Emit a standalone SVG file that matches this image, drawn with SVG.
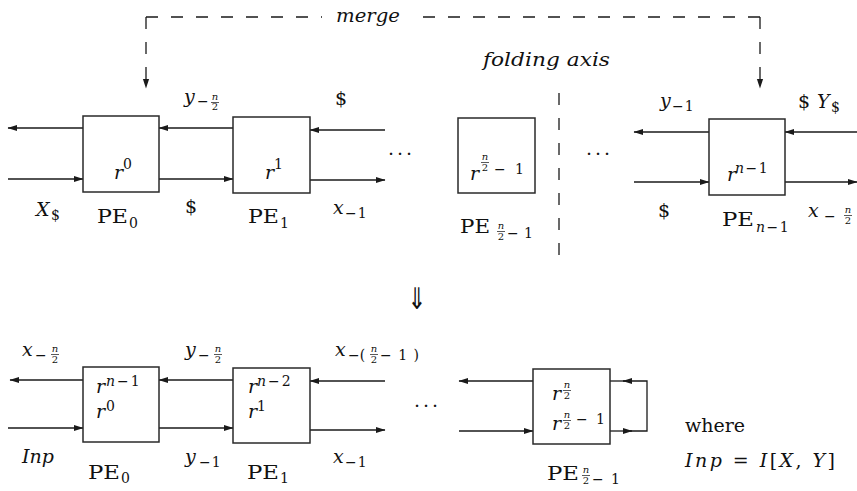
<svg xmlns="http://www.w3.org/2000/svg" width="857" height="491" viewBox="0 0 857 491">
<defs>
<marker id="ah" markerWidth="10" markerHeight="8" refX="9" refY="4" orient="auto" markerUnits="userSpaceOnUse">
<path d="M0,0.9 L9.5,4 L0,7.1 Z" fill="#1a1a1a"/>
</marker>
<style>
text{font-family:'DejaVu Serif','Liberation Serif',serif;fill:#111;font-size:19px}
.i{font-style:italic}
.S{font-size:14px}
.F{font-size:10px}
.b{fill:#fff;stroke:#2a2a2a;stroke-width:1.5}
.c{fill:none;stroke:#1a1a1a;stroke-width:1.3}
.a{marker-end:url(#ah)}
.d{stroke-dasharray:12 13}
.fb{stroke:#111;stroke-width:0.7}
</style>
</defs>
<rect width="857" height="491" fill="#fff"/>

<g id="connectors">
<path class="c d" d="M146,17 H322"/>
<path class="c d" d="M760,17 H412"/>
<path class="c d a" d="M146,17 V88"/>
<path class="c d a" d="M760,17 V88"/>
<path class="c d" d="M559,93 V258"/>
<path class="c a" d="M83,128 H8"/>
<path class="c a" d="M8,179 H83"/>
<path class="c a" d="M233,128 H159"/>
<path class="c a" d="M159,179 H233"/>
<path class="c a" d="M385,130 H310"/>
<path class="c a" d="M310,180 H385"/>
<path class="c a" d="M709,132 H634"/>
<path class="c a" d="M634,182 H709"/>
<path class="c a" d="M857,132 H785"/>
<path class="c a" d="M785,182 H857"/>
<path class="c a" d="M83,380 H10"/>
<path class="c a" d="M8,428 H83"/>
<path class="c a" d="M233,380 H159"/>
<path class="c a" d="M159,428 H233"/>
<path class="c a" d="M385,381 H310"/>
<path class="c a" d="M310,430 H385"/>
<path class="c a" d="M533,381 H459"/>
<path class="c a" d="M459,431 H533"/>
<path class="c a" d="M610,431 H632"/>
<path class="c a" d="M630,431 H647 V381 H623"/>
<path class="c" d="M625,381 H610"/>
</g>

<g id="top-pe0">
<rect class="b" x="83" y="116" width="76" height="76"/>
<text class="i" x="114" y="179">r</text><text class="S" x="123" y="169">0</text>
<text x="97" y="223" textLength="31" lengthAdjust="spacingAndGlyphs">PE</text><text class="S" x="129" y="228">0</text>
</g>
<g id="top-pe1">
<rect class="b" x="233" y="117" width="77" height="76"/>
<text class="i" x="265" y="179">r</text><text class="S" x="274" y="169">1</text>
<text x="248" y="223" textLength="31" lengthAdjust="spacingAndGlyphs">PE</text><text class="S" x="280" y="228">1</text>
</g>
<g id="top-pe-half">
<rect class="b" x="458" y="118" width="77" height="75"/>
<text class="i" x="470" y="180">r</text>
<text class="i F" x="485" y="160" text-anchor="middle">n</text>
<line class="fb" x1="481" y1="162.5" x2="489" y2="162.5"/>
<text class="F" x="485" y="171" text-anchor="middle">2</text>
<text class="S" x="494" y="174">−</text><text class="S" x="515" y="174">1</text>
<text x="460" y="233" textLength="30" lengthAdjust="spacingAndGlyphs">PE</text>
<text class="i F" x="501" y="229" text-anchor="middle">n</text>
<line class="fb" x1="497" y1="231.5" x2="505" y2="231.5"/>
<text class="F" x="501" y="240" text-anchor="middle">2</text>
<text class="S" x="507" y="238">−</text><text class="S" x="524" y="238">1</text>
</g>
<g id="top-pe-last">
<rect class="b" x="709" y="119" width="76" height="76"/>
<text class="i" x="727" y="181">r</text><text class="S" x="735" y="173" letter-spacing="1.5"><tspan class="i">n</tspan>−1</text>
<text x="722" y="226" textLength="32" lengthAdjust="spacingAndGlyphs">PE</text><text class="S" x="756" y="232" letter-spacing="1.5"><tspan class="i">n</tspan>−1</text>
</g>

<g id="bot-pe0">
<rect class="b" x="83" y="367" width="76" height="75"/>
<text class="i" x="96" y="393">r</text><text class="S" x="106" y="386" letter-spacing="2"><tspan class="i">n</tspan>−1</text>
<text class="i" x="96" y="418">r</text><text class="S" x="106" y="411">0</text>
<text x="88" y="479" textLength="32" lengthAdjust="spacingAndGlyphs">PE</text><text class="S" x="121" y="483">0</text>
</g>
<g id="bot-pe1">
<rect class="b" x="233" y="368" width="77" height="75"/>
<text class="i" x="248" y="393">r</text><text class="S" x="257" y="386" letter-spacing="2"><tspan class="i">n</tspan>−2</text>
<text class="i" x="248" y="418">r</text><text class="S" x="257" y="411">1</text>
<text x="247" y="479" textLength="32" lengthAdjust="spacingAndGlyphs">PE</text><text class="S" x="280" y="483">1</text>
</g>
<g id="bot-pe-half">
<rect class="b" x="533" y="369" width="77" height="75"/>
<text class="i" x="552" y="400">r</text>
<text class="i F" x="567" y="388" text-anchor="middle">n</text>
<line class="fb" x1="563" y1="390.5" x2="571" y2="390.5"/>
<text class="F" x="567" y="399" text-anchor="middle">2</text>
<text class="i" x="552" y="430">r</text>
<text class="i F" x="567" y="418" text-anchor="middle">n</text>
<line class="fb" x1="563" y1="420.5" x2="571" y2="420.5"/>
<text class="F" x="567" y="429" text-anchor="middle">2</text>
<text class="S" x="576" y="424">−</text><text class="S" x="596" y="424">1</text>
<text x="547" y="480" textLength="32" lengthAdjust="spacingAndGlyphs">PE</text>
<text class="i F" x="586" y="473" text-anchor="middle">n</text>
<line class="fb" x1="582" y1="475.5" x2="590" y2="475.5"/>
<text class="F" x="586" y="484" text-anchor="middle">2</text>
<text class="S" x="592" y="484">−</text><text class="S" x="611" y="484">1</text>
</g>

<g id="labels">
<text class="i" x="336" y="22" textLength="64" lengthAdjust="spacingAndGlyphs">merge</text>
<text class="i" x="483" y="66" textLength="127" lengthAdjust="spacingAndGlyphs">folding axis</text>
<text class="i" x="184" y="103">y</text><text class="S" x="197" y="106">−</text>
<text class="i F" x="215" y="100" text-anchor="middle">n</text>
<line class="fb" x1="211" y1="102.5" x2="219" y2="102.5"/>
<text class="F" x="215" y="110" text-anchor="middle">2</text>
<text x="335" y="105">$</text>
<text class="i" x="36" y="216">X</text><text class="S" x="51" y="220">$</text>
<text x="185" y="213">$</text>
<text class="i" x="333" y="214">x</text><text class="S" x="345" y="218" letter-spacing="1">−1</text>
<text x="388" y="155" letter-spacing="3">...</text>
<text x="586" y="155" letter-spacing="3">...</text>
<text class="i" x="660" y="107">y</text><text class="S" x="672" y="111" letter-spacing="1">−1</text>
<text x="798" y="108">$</text><text class="i" x="817" y="108">Y</text><text class="S" x="831" y="112">$</text>
<text x="658" y="217">$</text>
<text class="i" x="808" y="217">x</text><text class="S" x="824" y="221">−</text>
<text class="i F" x="848" y="213" text-anchor="middle">n</text>
<line class="fb" x1="844" y1="215.5" x2="852" y2="215.5"/>
<text class="F" x="848" y="224" text-anchor="middle">2</text>
<text transform="translate(417,309) scale(0.75,1)" text-anchor="middle" style="font-family:'DejaVu Sans',sans-serif;font-size:30px;fill:#111">⇓</text>
<text class="i" x="22" y="356">x</text><text class="S" x="35" y="360">−</text>
<text class="i F" x="55" y="352" text-anchor="middle">n</text>
<line class="fb" x1="51" y1="354.5" x2="59" y2="354.5"/>
<text class="F" x="55" y="363" text-anchor="middle">2</text>
<text class="i" x="185" y="356">y</text><text class="S" x="198" y="360">−</text>
<text class="i F" x="218" y="352" text-anchor="middle">n</text>
<line class="fb" x1="214" y1="354.5" x2="222" y2="354.5"/>
<text class="F" x="218" y="363" text-anchor="middle">2</text>
<text class="i" x="335" y="356">x</text><text class="S" x="348" y="360">−(</text>
<text class="i F" x="374" y="352" text-anchor="middle">n</text>
<line class="fb" x1="370" y1="354.5" x2="378" y2="354.5"/>
<text class="F" x="374" y="363" text-anchor="middle">2</text>
<text class="S" x="380" y="360" textLength="39" lengthAdjust="spacing">−1)</text>
<text x="414" y="407" letter-spacing="3">...</text>
<text class="i" x="22" y="463">Inp</text>
<text class="i" x="185" y="463">y</text><text class="S" x="199" y="467" letter-spacing="1">−1</text>
<text class="i" x="333" y="463">x</text><text class="S" x="345" y="467" letter-spacing="1">−1</text>
<text x="685" y="432">where</text>
<text x="685" y="467" textLength="150" lengthAdjust="spacing"><tspan class="i">Inp</tspan> = <tspan class="i">I</tspan>[<tspan class="i">X</tspan>, <tspan class="i">Y</tspan>]</text>
</g>
</svg>
